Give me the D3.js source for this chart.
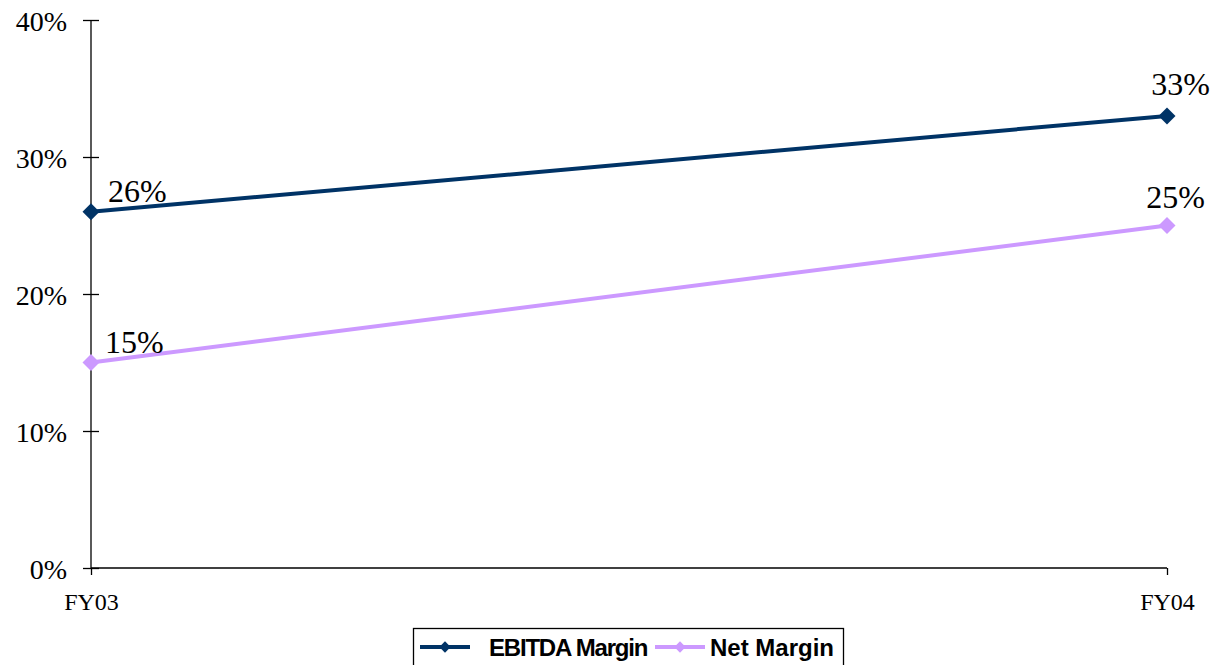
<!DOCTYPE html>
<html><head><meta charset="utf-8">
<script src="https://cdn.jsdelivr.net/npm/d3@7"></script>
<style>body{margin:0;background:#fff}svg{display:block}</style>
</head><body><svg id="c" width="1214" height="665"></svg>
<script>
const categories = ["FY03", "FY04"];
const ebitda = [0.26, 0.33];
const netMargin = [0.15, 0.25];
const yTicks = [0, 0.1, 0.2, 0.3, 0.4];
const seriesNames = ["EBITDA Margin", "Net Margin"];

const svg = d3.select("#c");
const x = d3.scalePoint().domain(categories).range([91, 1167]);
const y = d3.scaleLinear().domain([0, 0.4]).range([568, 20]);
const fmt = d3.format(".0%");
const serif = "'Liberation Serif', 'Times New Roman', Times, serif";

// y axis
const ya = svg.append("g").attr("transform", "translate(91,0)")
  .call(d3.axisLeft(y).tickValues(yTicks).tickFormat(fmt).tickSize(8).tickPadding(4));
ya.select(".domain").attr("stroke", "#000").attr("stroke-width", 1.3).attr("d", `M0,${y(0.4)}V${y(0)}`);
ya.selectAll(".tick line").attr("stroke", "#000").attr("stroke-width", 1.3).attr("x1", 8).attr("x2", -8);
ya.selectAll(".tick text").attr("font-family", serif).attr("font-size", 28).attr("fill", "#000").attr("x", -24).attr("dy", "0.36em");

// x axis
const xa = svg.append("g").attr("transform", "translate(0,568)")
  .call(d3.axisBottom(x).tickSize(7).tickPadding(18));
xa.select(".domain").attr("stroke", "#000").attr("stroke-width", 1.3).attr("d", `M${x("FY03")},0H${x("FY04")}`);
xa.selectAll(".tick line").attr("stroke", "#000").attr("stroke-width", 1.3);
xa.selectAll(".tick text").attr("font-family", serif).attr("font-size", 24).attr("fill", "#000");

const series = [
  {name: seriesNames[0], values: ebitda, color: "#003366", lab: [{dx: 17, dy: -10, a: "start"}, {dx: 43, dy: -21, a: "end"}]},
  {name: seriesNames[1], values: netMargin, color: "#CC99FF", lab: [{dx: 14, dy: -10, a: "start"}, {dx: 38, dy: -18, a: "end"}]}
];
const line = d3.line().x((d, i) => x(categories[i])).y(d => y(d));

series.forEach(s => {
  svg.append("path").datum(s.values).attr("d", line).attr("fill", "none").attr("stroke", s.color).attr("stroke-width", 4);
  svg.selectAll(null).data(s.values).enter().append("path")
    .attr("transform", (d, i) => `translate(${x(categories[i])},${y(d)}) rotate(45)`)
    .attr("d", d3.symbol().type(d3.symbolSquare).size(144)).attr("fill", s.color);
  svg.selectAll(null).data(s.values).enter().append("text")
    .attr("x", (d, i) => x(categories[i]) + s.lab[i].dx)
    .attr("y", (d, i) => y(d) + s.lab[i].dy)
    .attr("text-anchor", (d, i) => s.lab[i].a)
    .attr("font-family", serif).attr("font-size", 32).attr("fill", "#000")
    .text(d => fmt(d));
});

// legend
const lg = svg.append("g");
lg.append("rect").attr("x", 413.5).attr("y", 628.5).attr("width", 430).attr("height", 40).attr("fill", "#fff").attr("stroke", "#000").attr("stroke-width", 1.3);
const legItems = [{x0: 420, tx: 489, ls: -1.2}, {x0: 655, tx: 710, ls: 0}];
series.forEach((s, i) => {
  const it = legItems[i];
  lg.append("line").attr("x1", it.x0).attr("x2", it.x0 + 50).attr("y1", 647).attr("y2", 647).attr("stroke", s.color).attr("stroke-width", 4);
  lg.append("path").attr("transform", `translate(${it.x0 + 25},647) rotate(45)`).attr("d", d3.symbol().type(d3.symbolSquare).size(64)).attr("fill", s.color);
  lg.append("text").attr("x", it.tx).attr("y", 655.5).attr("font-family", "'Liberation Sans', Arial, sans-serif").attr("font-weight", "bold").attr("font-size", 24).attr("letter-spacing", it.ls).attr("fill", "#000").text(s.name);
});
</script></body></html>
